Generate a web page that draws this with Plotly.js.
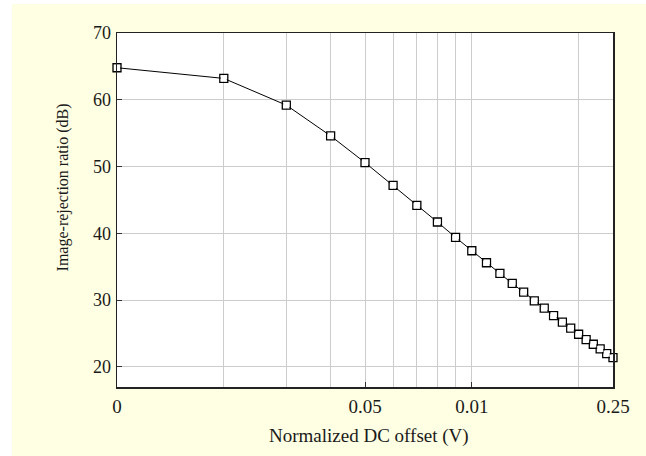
<!DOCTYPE html>
<html>
<head>
<meta charset="utf-8">
<script src="https://cdn.plot.ly/plotly-3.0.1.min.js"></script>
<style>
  html, body { margin: 0; padding: 0; background: #ffffff; }
  #bg { position: absolute; left: 12px; top: 4px; width: 634px; height: 452px; background: #FFFFE3; }
  #chart { position: absolute; left: 0; top: 0; width: 646px; height: 456px; }
</style>
</head>
<body>
<div id="bg"></div>
<div id="chart"></div>
<script>
// DC offset (in units of 0.01 V, plotted on a log axis)
const dcOffset = [1, 2, 3, 4, 5, 6, 7, 8, 9, 10, 11, 12, 13, 14, 15, 16, 17, 18, 19, 20, 21, 22, 23, 24, 25];
// Image-rejection ratio (dB)
const irr = [64.8, 63.2, 59.2, 54.6, 50.6, 47.2, 44.2, 41.7, 39.4, 37.4, 35.6, 34.0, 32.5, 31.2, 29.9, 28.8, 27.7, 26.7, 25.8, 24.9, 24.1, 23.4, 22.7, 22.0, 21.4];
const xTickVals = [1, 5, 10, 25];
const xTickText = ["0", "0.05", "0.01", "0.25"];
const xGridVals = [1, 2, 3, 4, 5, 6, 7, 8, 9, 10, 20, 25];
const yTickVals = [20, 30, 40, 50, 60, 70];
const xTitle = 'Normalized DC offset (V)';
const yTitle = 'Image-rejection ratio (dB)';

const fontFam = '"Liberation Serif", "Times New Roman", serif';
const txtColor = '#1a1a1a';

const traces = [
  { x: [1], y: [17], xaxis: 'x2', yaxis: 'y', type: 'scatter', mode: 'markers',
    marker: { opacity: 0 }, showlegend: false, hoverinfo: 'skip' },
  {
    x: dcOffset,
    y: irr,
    type: 'scatter',
    mode: 'lines+markers',
    line: { color: '#000000', width: 1 },
    marker: { symbol: 'square-open', size: 8, color: '#000000', line: { width: 1.3, color: '#000000' } },
    cliponaxis: false,
    showlegend: false,
    hoverinfo: 'x+y'
  },
  {
    x: dcOffset,
    y: irr,
    type: 'scatter',
    mode: 'markers',
    marker: { symbol: 'square', size: 6, color: '#ffffff' },
    cliponaxis: false,
    showlegend: false,
    hoverinfo: 'skip'
  }
];

const layout = {
  width: 646,
  height: 456,
  margin: { l: 117, r: 33, t: 33, b: 69 },
  paper_bgcolor: 'rgba(0,0,0,0)',
  plot_bgcolor: '#ffffff',
  font: { family: fontFam, size: 18, color: txtColor },
  showlegend: false,
  xaxis: {
    type: 'log',
    range: [0, Math.log10(25)],
    tickmode: 'array',
    tickvals: xTickVals,
    ticktext: xTickText,
    tickfont: { family: fontFam, size: 19, color: txtColor },
    ticks: 'inside',
    ticklen: 5,
    tickcolor: '#333333',
    ticklabelstandoff: 2,
    showgrid: false,
    zeroline: false,
    showline: true,
    mirror: true,
    linecolor: '#222222',
    linewidth: 1.5,
    automargin: false
  },
  xaxis2: {
    type: 'log',
    overlaying: 'x',
    range: [0, Math.log10(25)],
    tickmode: 'array',
    tickvals: xGridVals,
    showticklabels: false,
    showgrid: true,
    gridcolor: '#cccccc',
    gridwidth: 1,
    zeroline: false,
    showline: false,
    ticks: ''
  },
  yaxis: {
    range: [17, 70],
    tickmode: 'array',
    tickvals: yTickVals,
    tickfont: { family: fontFam, size: 18, color: txtColor },
    ticks: 'inside',
    ticklen: 5,
    tickcolor: '#333333',
    ticklabelstandoff: 1,
    showgrid: true,
    gridcolor: '#cccccc',
    gridwidth: 1,
    zeroline: false,
    showline: true,
    mirror: true,
    linecolor: '#222222',
    linewidth: 1.5,
    automargin: false
  },
  annotations: [
    { text: xTitle, xref: 'paper', yref: 'paper', x: 0.508, y: -0.138, xanchor: 'center', yanchor: 'middle',
      showarrow: false, font: { family: fontFam, size: 19, color: txtColor } },
    { text: yTitle, xref: 'paper', yref: 'paper', x: -0.107, y: 0.5636, xanchor: 'center', yanchor: 'middle',
      textangle: -90, showarrow: false, font: { family: fontFam, size: 16, color: txtColor } }
  ]
};

Plotly.newPlot('chart', traces, layout, { displayModeBar: false, staticPlot: true });
</script>
</body>
</html>
